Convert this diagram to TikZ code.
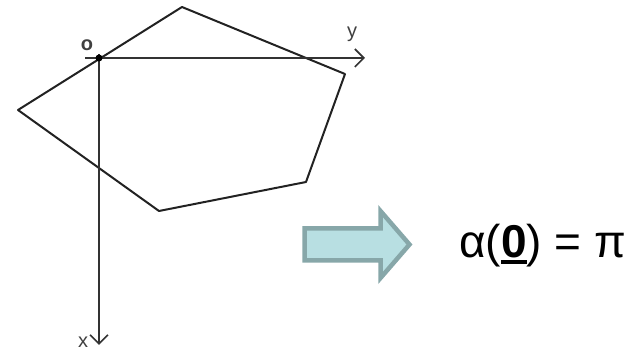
\documentclass[tikz,border=0pt]{standalone}
\usepackage{fontspec}
\setmainfont{Liberation Sans}
\usetikzlibrary{arrows.meta}
\definecolor{axisgray}{HTML}{333333}
\definecolor{polygray}{HTML}{222222}
\definecolor{arrowfill}{HTML}{B8DFE2}
\definecolor{arrowedge}{HTML}{87A7A9}
\definecolor{labelgray}{HTML}{404040}
\newcommand{\myzerou}{\setbox0\hbox{\textbf{0}}\rlap{\rule[-6pt]{\wd0}{4pt}}\box0}
\tikzset{
  axisline/.style={draw=axisgray, line width=2.1pt, -{Straight Barb[length=9pt,width=18pt,line width=1.6pt]}},
  polyline/.style={draw=polygray, line width=2pt, line join=round},
  axislabel/.style={text=labelgray, font=\fontsize{20}{20}\selectfont, inner sep=0pt},
  blockarrow/.style={draw=arrowedge, fill=arrowfill, line width=4.5pt, line join=miter},
  formula/.style={font=\fontsize{46}{46}\selectfont, inner sep=0pt, anchor=base west}
}
\begin{document}
\begin{tikzpicture}[x=1pt,y=-1pt]
\useasboundingbox (0,0) rectangle (638,355);
% polygon vertices
\coordinate (top) at (182,7);
\coordinate (right) at (345,74);
\coordinate (br) at (306,182);
\coordinate (bot) at (159,211);
\coordinate (left) at (18,110);
\draw[polyline] (top) -- (right) -- (br) -- (bot) -- (left) -- cycle;
% axes
\coordinate (O) at (99,58);
\coordinate (ystart) at (85,58);
\coordinate (yend) at (365,58);
\coordinate (xstart) at (99,54);
\coordinate (xend) at (99,345);
\draw[axisline] (ystart) -- (yend);
\draw[axisline] (xstart) -- (xend);
\fill[black] (O) circle (3.5pt);
\node[axislabel] (olab) at (87,45) {\bfseries o};
\node[axislabel] (ylab) at (352,34) {y};
\node[axislabel] (xlab) at (83,342) {x};
% block arrow
\draw[blockarrow] (304.5,228.5) -- (380.5,228.5) -- (380.5,211) -- (409.5,244.5) -- (380.5,278) -- (380.5,260.5) -- (304.5,260.5) -- cycle;
% formula
\node[formula] (f) at (459,258) {α(\myzerou) = π};
\end{tikzpicture}
\end{document}
